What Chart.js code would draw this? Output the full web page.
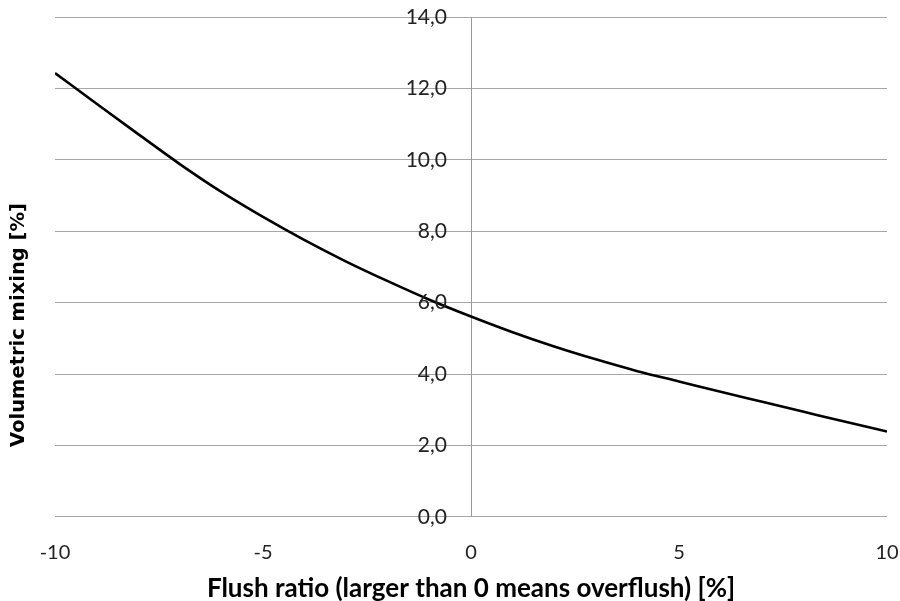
<!DOCTYPE html>
<html>
<head>
<meta charset="utf-8">
<script src="https://cdn.jsdelivr.net/npm/chart.js@4.4.1/dist/chart.umd.min.js"></script>
<style>
  html, body { margin: 0; padding: 0; background: #fff; }
  #wrap { width: 900px; height: 601px; }
</style>
</head>
<body>
<div id="wrap"><canvas id="myChart"></canvas></div>
<script>
// Flush ratio [%] and volumetric mixing [%]
const flushRatio = [-10, -9, -8, -7, -6, -5, -4, -3, -2, -1, 0, 1, 2, 3, 4, 5, 6, 7, 8, 9, 10];
const mixing = [12.43, 11.57, 10.72, 9.88, 9.1, 8.4, 7.75, 7.15, 6.6, 6.08, 5.61, 5.17, 4.77, 4.41, 4.08, 3.79, 3.5, 3.22, 2.94, 2.66, 2.39];
const xTicks = [-10, -5, 0, 5, 10];
const yTicks = [0, 2, 4, 6, 8, 10, 12, 14];

const points = flushRatio.map((x, i) => ({ x: x, y: mixing[i] }));

function fmt(v) {
  return v.toFixed(1).replace('.', ',');
}

// y tick labels sit left of the x=0 axis line, over the grid lines
const yLabels = {
  id: 'yLabels',
  afterDraw(chart) {
    const c = chart.ctx;
    const x0 = chart.scales.x.getPixelForValue(0);
    c.save();
    c.font = '21px Lato';
    c.fillStyle = '#222';
    c.textAlign = 'right';
    c.textBaseline = 'middle';
    yTicks.forEach(function (v) {
      c.fillText(fmt(v), x0 - 24, chart.scales.y.getPixelForValue(v));
    });
    c.restore();
  }
};

// y title sits left of the plot, a bit below its middle
const yTitle = {
  id: 'yTitle',
  afterDraw(chart) {
    const c = chart.ctx;
    c.save();
    c.translate(19, 325);
    c.rotate(-Math.PI / 2);
    c.font = 'bold 19.5px "DejaVu Sans"';
    c.fillStyle = '#000';
    c.textAlign = 'center';
    c.textBaseline = 'middle';
    c.fillText('Volumetric mixing [%]', 0, 0);
    c.restore();
  }
};

const ctx = document.getElementById('myChart').getContext('2d');
new Chart(ctx, {
  type: 'line',
  data: {
    datasets: [{
      data: points,
      borderColor: '#000',
      borderWidth: 2.6,
      pointRadius: 0,
      fill: false,
      cubicInterpolationMode: 'monotone'
    }]
  },
  options: {
    responsive: true,
    maintainAspectRatio: false,
    animation: false,
    plugins: { legend: { display: false }, tooltip: { enabled: false } },
    layout: { padding: { left: 55, right: 13, top: 17, bottom: 0 } },
    scales: {
      x: {
        type: 'linear',
        min: xTicks[0],
        max: xTicks[xTicks.length - 1],
        afterBuildTicks: function (axis) { axis.ticks = xTicks.map(v => ({ value: v })); },
        grid: { drawOnChartArea: false, drawTicks: true, tickLength: 24, color: 'rgba(0,0,0,0)' },
        border: { display: false },
        ticks: { padding: 0, color: '#222', font: { family: 'Lato', size: 20 }, maxRotation: 0 },
        title: {
          display: true,
          text: 'Flush ratio (larger than 0 means overflush) [%]',
          color: '#000',
          font: { family: 'Lato', size: 26, weight: 'bold' },
          padding: { top: 8, bottom: -3 }
        }
      },
      y: {
        type: 'linear',
        min: yTicks[0],
        max: yTicks[yTicks.length - 1],
        position: 'center',
        afterBuildTicks: function (axis) { axis.ticks = yTicks.map(v => ({ value: v })); },
        grid: { color: '#a6a6a6', lineWidth: 1, drawTicks: false },
        border: { color: '#999', width: 1 },
        ticks: { display: false }
      }
    }
  },
  plugins: [yLabels, yTitle]
});
</script>
</body>
</html>
